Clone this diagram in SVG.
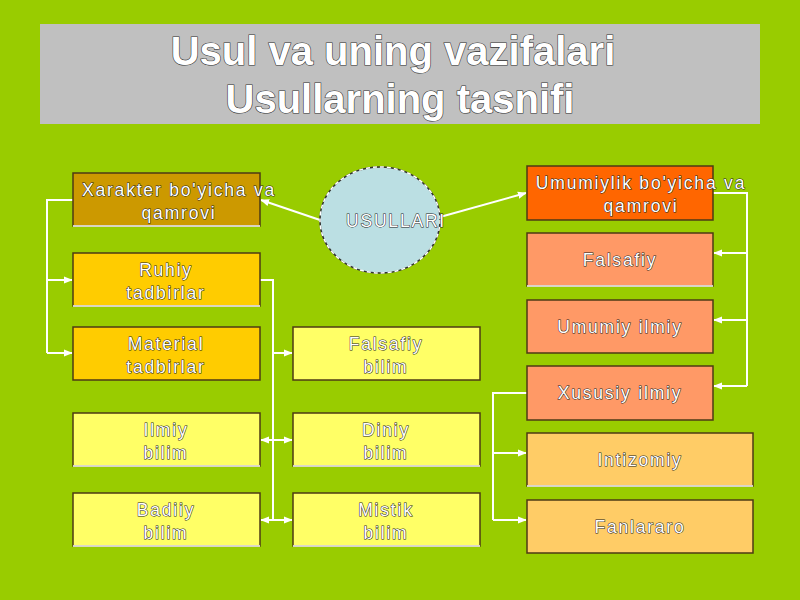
<svg xmlns="http://www.w3.org/2000/svg" width="800" height="600" viewBox="0 0 800 600">
<defs>
<marker id="ah" viewBox="0 0 10 10" refX="9" refY="5" markerWidth="9" markerHeight="9" markerUnits="userSpaceOnUse" orient="auto-start-reverse">
<path d="M0,1 L10,5 L0,9 Z" fill="#fff"/>
</marker>
<style>
.t{font-family:"Liberation Sans",Arial,sans-serif;font-size:17.5px;letter-spacing:1.8px;fill:#fff;stroke:#222;stroke-width:1px;paint-order:stroke fill;text-anchor:middle}
.title{font-family:"Liberation Sans",Arial,sans-serif;font-size:40px;font-weight:bold;fill:#fff;stroke:#333;stroke-width:1.2px;paint-order:stroke fill;text-anchor:middle}
.b{stroke:#4d3a14;stroke-width:1.5}
.wb{stroke:#fff;stroke-width:1.5}
.c{fill:none;stroke:#fff;stroke-width:2}
</style>
</defs>
<rect width="800" height="600" fill="#99CC00"/>
<g id="title">
<rect x="40" y="24" width="720" height="100" fill="#C0C0C0"/>
<text class="title" x="393" y="65">Usul va uning vazifalari</text>
<text class="title" x="400" y="113">Usullarning tasnifi</text>
</g>
<g id="connectors">
<line class="c" x1="320" y1="220" x2="261" y2="200" marker-end="url(#ah)"/>
<line class="c" x1="440" y1="217" x2="526" y2="193" marker-end="url(#ah)"/>
<polyline class="c" points="73,200 47,200 47,353"/>
<line class="c" x1="47" y1="280" x2="72" y2="280" marker-end="url(#ah)"/>
<line class="c" x1="47" y1="353" x2="72" y2="353" marker-end="url(#ah)"/>
<polyline class="c" points="260,280 273,280 273,520"/>
<line class="c" x1="273" y1="353" x2="292" y2="353" marker-end="url(#ah)"/>
<line class="c" x1="261" y1="440" x2="292" y2="440" marker-start="url(#ah)" marker-end="url(#ah)"/>
<line class="c" x1="261" y1="520" x2="292" y2="520" marker-start="url(#ah)" marker-end="url(#ah)"/>
<polyline class="c" points="713,193 747,193 747,386"/>
<line class="c" x1="747" y1="253" x2="714" y2="253" marker-end="url(#ah)"/>
<line class="c" x1="747" y1="320" x2="714" y2="320" marker-end="url(#ah)"/>
<line class="c" x1="747" y1="386" x2="714" y2="386" marker-end="url(#ah)"/>
<polyline class="c" points="527,393 493,393 493,520"/>
<line class="c" x1="493" y1="453" x2="526" y2="453" marker-end="url(#ah)"/>
<line class="c" x1="493" y1="520" x2="526" y2="520" marker-end="url(#ah)"/>
</g>
<g id="usullari">
<ellipse cx="380" cy="220" rx="60" ry="53" fill="#BBDFE3" stroke="#333" stroke-width="1.5"/>
<ellipse cx="380" cy="220" rx="60" ry="53" fill="none" stroke="#fff" stroke-width="1.5" stroke-dasharray="4 3"/>
<text class="t" x="396" y="227">USULLARI</text>
</g>
<g id="xarakter">
<rect class="b" x="73" y="173" width="187" height="53" fill="#CC9900"/>
<line class="wb" x1="73" y1="226" x2="260" y2="226"/>
<text class="t" x="179" y="196">Xarakter bo'yicha va</text>
<text class="t" x="179" y="219">qamrovi</text>
</g>
<g id="ruhiy">
<rect class="b" x="73" y="253" width="187" height="53" fill="#FFCC00"/>
<line class="wb" x1="73" y1="306" x2="260" y2="306"/>
<text class="t" x="166" y="276">Ruhiy</text>
<text class="t" x="166" y="299">tadbirlar</text>
</g>
<g id="material">
<rect class="b" x="73" y="327" width="187" height="53" fill="#FFCC00"/>
<text class="t" x="166" y="350">Material</text>
<text class="t" x="166" y="373">tadbirlar</text>
</g>
<g id="ilmiy">
<rect class="b" x="73" y="413" width="187" height="53" fill="#FFFF66"/>
<line class="wb" x1="73" y1="466" x2="260" y2="466"/>
<text class="t" x="166" y="436">Ilmiy</text>
<text class="t" x="166" y="459">bilim</text>
</g>
<g id="badiiy">
<rect class="b" x="73" y="493" width="187" height="53" fill="#FFFF66"/>
<line class="wb" x1="73" y1="546" x2="260" y2="546"/>
<text class="t" x="166" y="516">Badiiy</text>
<text class="t" x="166" y="539">bilim</text>
</g>
<g id="falsafiy-bilim">
<rect class="b" x="293" y="327" width="187" height="53" fill="#FFFF66"/>
<text class="t" x="386" y="350">Falsafiy</text>
<text class="t" x="386" y="373">bilim</text>
</g>
<g id="diniy">
<rect class="b" x="293" y="413" width="187" height="53" fill="#FFFF66"/>
<line class="wb" x1="293" y1="466" x2="480" y2="466"/>
<text class="t" x="386" y="436">Diniy</text>
<text class="t" x="386" y="459">bilim</text>
</g>
<g id="mistik">
<rect class="b" x="293" y="493" width="187" height="53" fill="#FFFF66"/>
<line class="wb" x1="293" y1="546" x2="480" y2="546"/>
<text class="t" x="386" y="516">Mistik</text>
<text class="t" x="386" y="539">bilim</text>
</g>
<g id="umumiylik">
<rect class="b" x="527" y="166" width="186" height="54" fill="#FF6600"/>
<text class="t" x="641" y="189">Umumiylik bo'yicha va</text>
<text class="t" x="641" y="212">qamrovi</text>
</g>
<g id="falsafiy">
<rect class="b" x="527" y="233" width="186" height="53" fill="#FF9966"/>
<line class="wb" x1="527" y1="286" x2="713" y2="286"/>
<text class="t" x="620" y="266">Falsafiy</text>
</g>
<g id="umumiy-ilmiy">
<rect class="b" x="527" y="300" width="186" height="53" fill="#FF9966"/>
<text class="t" x="620" y="333">Umumiy ilmiy</text>
</g>
<g id="xususiy-ilmiy">
<rect class="b" x="527" y="366" width="186" height="54" fill="#FF9966"/>
<text class="t" x="620" y="399">Xususiy ilmiy</text>
</g>
<g id="intizomiy">
<rect class="b" x="527" y="433" width="226" height="53" fill="#FFCC66"/>
<line class="wb" x1="527" y1="486" x2="753" y2="486"/>
<text class="t" x="640" y="466">Intizomiy</text>
</g>
<g id="fanlararo">
<rect class="b" x="527" y="500" width="226" height="53" fill="#FFCC66"/>
<text class="t" x="640" y="533">Fanlararo</text>
</g>
</svg>
